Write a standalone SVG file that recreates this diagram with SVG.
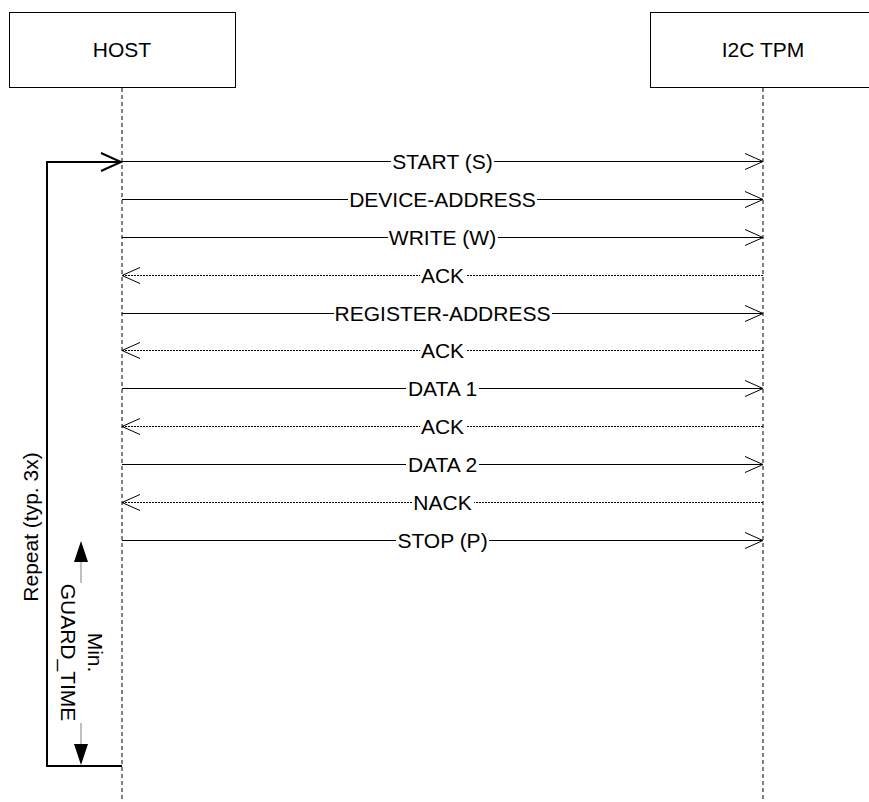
<svg xmlns="http://www.w3.org/2000/svg" width="869" height="802" viewBox="0 0 869 802">
<style>
.box{fill:#fff;stroke:#000;stroke-width:1}
.life{stroke:#000;stroke-width:1;stroke-dasharray:4 3;fill:none}
.msg{stroke:#000;stroke-width:1;fill:none}
.ret{stroke:#000;stroke-width:1;stroke-dasharray:2 1;fill:none}
.head{stroke:#000;stroke-width:1;fill:none}
text{font-family:"Liberation Sans",Arial,sans-serif;font-size:21px;fill:#000}
.lbl{text-anchor:middle;dominant-baseline:central}
.bg{fill:#fff}
</style>
<rect width="869" height="802" fill="#fff"/>
<g id="host">
<rect class="box" x="9.5" y="12.5" width="226" height="75"/>
<text class="lbl" x="122" y="49">HOST</text>
<line class="life" x1="122" y1="88" x2="122" y2="802"/>
</g>
<g id="tpm">
<rect class="box" x="650.5" y="12.5" width="225" height="75"/>
<text class="lbl" x="763" y="49">I2C TPM</text>
<line class="life" x1="763" y1="88" x2="763" y2="802"/>
</g>
<g id="connectors">
<g id="m1"><line class="msg" x1="122" y1="161.5" x2="763" y2="161.5"/><path class="head" d="M745,153.5 L763,161.5 L745,169.5"/><rect class="bg" x="391" y="150" width="103" height="22"/><text class="lbl" x="442.5" y="161">START (S)</text></g>
<g id="m2"><line class="msg" x1="122" y1="199.5" x2="763" y2="199.5"/><path class="head" d="M745,191.5 L763,199.5 L745,207.5"/><rect class="bg" x="348" y="188" width="189" height="22"/><text class="lbl" x="442.5" y="199">DEVICE-ADDRESS</text></g>
<g id="m3"><line class="msg" x1="122" y1="237.5" x2="763" y2="237.5"/><path class="head" d="M745,229.5 L763,237.5 L745,245.5"/><rect class="bg" x="388" y="226" width="110" height="22"/><text class="lbl" x="442.5" y="237">WRITE (W)</text></g>
<g id="m4"><line class="ret" x1="122" y1="275.5" x2="763" y2="275.5"/><path class="head" d="M140,267.5 L122,275.5 L140,283.5"/><rect class="bg" x="420" y="264" width="46" height="22"/><text class="lbl" x="442.5" y="275">ACK</text></g>
<g id="m5"><line class="msg" x1="122" y1="313.5" x2="763" y2="313.5"/><path class="head" d="M745,305.5 L763,313.5 L745,321.5"/><rect class="bg" x="334" y="302" width="218" height="22"/><text class="lbl" x="442.5" y="313">REGISTER-ADDRESS</text></g>
<g id="m6"><line class="ret" x1="122" y1="350.5" x2="763" y2="350.5"/><path class="head" d="M140,342.5 L122,350.5 L140,358.5"/><rect class="bg" x="420" y="339" width="46" height="22"/><text class="lbl" x="442.5" y="350">ACK</text></g>
<g id="m7"><line class="msg" x1="122" y1="388.5" x2="763" y2="388.5"/><path class="head" d="M745,380.5 L763,388.5 L745,396.5"/><rect class="bg" x="406" y="377" width="73" height="22"/><text class="lbl" x="442.5" y="388">DATA 1</text></g>
<g id="m8"><line class="ret" x1="122" y1="426.5" x2="763" y2="426.5"/><path class="head" d="M140,418.5 L122,426.5 L140,434.5"/><rect class="bg" x="420" y="415" width="46" height="22"/><text class="lbl" x="442.5" y="426">ACK</text></g>
<g id="m9"><line class="msg" x1="122" y1="464.5" x2="763" y2="464.5"/><path class="head" d="M745,456.5 L763,464.5 L745,472.5"/><rect class="bg" x="406" y="453" width="73" height="22"/><text class="lbl" x="442.5" y="464">DATA 2</text></g>
<g id="m10"><line class="ret" x1="122" y1="502.5" x2="763" y2="502.5"/><path class="head" d="M140,494.5 L122,502.5 L140,510.5"/><rect class="bg" x="412" y="491" width="62" height="22"/><text class="lbl" x="442.5" y="502">NACK</text></g>
<g id="m11"><line class="msg" x1="122" y1="540.5" x2="763" y2="540.5"/><path class="head" d="M745,532.5 L763,540.5 L745,548.5"/><rect class="bg" x="396" y="529" width="93" height="22"/><text class="lbl" x="442.5" y="540">STOP (P)</text></g>
<g id="loop">
<path d="M122,766 L47,766 L47,162 L122,162" fill="none" stroke="#000" stroke-width="2"/>
<path d="M101,153 L121,162 L101,171" fill="none" stroke="#000" stroke-width="2"/>
<text class="lbl" transform="translate(30,527) rotate(-90)" x="0" y="0">Repeat (typ. 3x)</text>
</g>
<g id="guard">
<line x1="81" y1="560" x2="81" y2="583" stroke="#808080" stroke-width="1"/>
<line x1="81" y1="723" x2="81" y2="745" stroke="#808080" stroke-width="1"/>
<path d="M81,541 L88,562 L74,562 Z" fill="#000"/>
<path d="M81,765 L88,744 L74,744 Z" fill="#000"/>
<text transform="translate(82,652.5) rotate(90)" text-anchor="middle"><tspan x="0" y="-6">Min.</tspan><tspan x="0" y="21">GUARD_TIME</tspan></text>
</g>
</g>
</svg>
